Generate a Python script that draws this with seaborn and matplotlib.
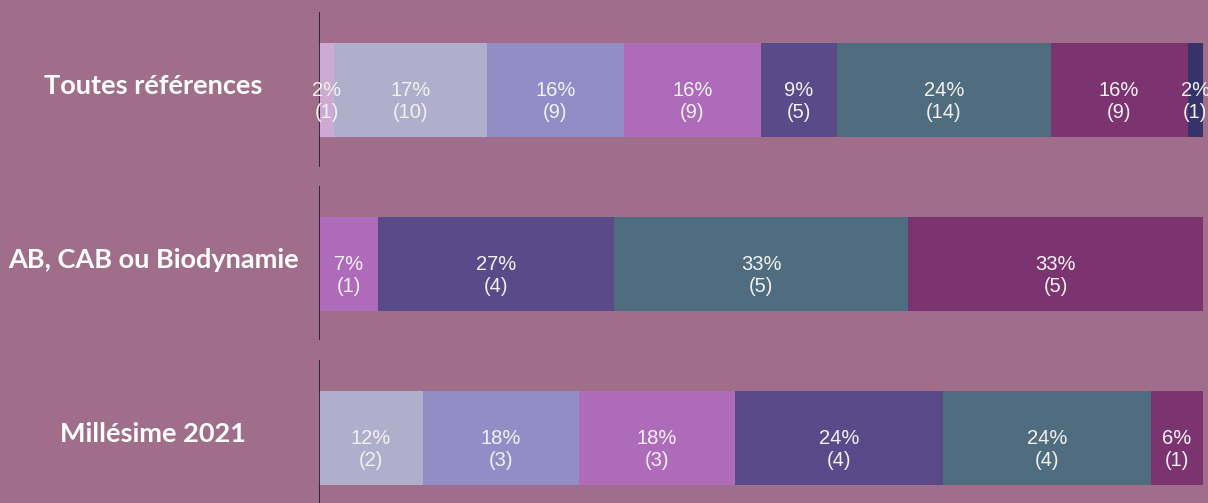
import numpy as np
import pandas as pd
import matplotlib
matplotlib.use("Agg")
import matplotlib.pyplot as plt
import matplotlib.transforms as mtransforms
import seaborn as sns

# ─── Data ────────────────────────────────────────────────────────────────────
categories = ["Toutes références", "AB, CAB ou Biodynamie", "Millésime 2021"]
segments = ["s1", "s2", "s3", "s4", "s5", "s6", "s7", "s8"]

counts = {
    "Toutes références":     [1, 10, 9, 9, 5, 14, 9, 1],
    "AB, CAB ou Biodynamie": [0, 0, 0, 1, 4, 5, 5, 0],
    "Millésime 2021":        [0, 2, 3, 3, 4, 4, 1, 0],
}
pct_labels = {
    "Toutes références":     [2, 17, 16, 16, 9, 24, 16, 2],
    "AB, CAB ou Biodynamie": [0, 0, 0, 7, 27, 33, 33, 0],
    "Millésime 2021":        [0, 12, 18, 18, 24, 24, 6, 0],
}

seg_colors = ["#CDAAD1", "#B0AECB", "#928DC7", "#AD6BBA",
              "#5A4A8A", "#4F6D7E", "#7B3470", "#35346A"]
BG = "#A06E8A"

# ─── Build table ─────────────────────────────────────────────────────────────
rows = []
for cat in categories:
    c = np.array(counts[cat], dtype=float)
    share = c / c.sum() * 100
    cum = np.cumsum(share)
    for i, seg in enumerate(segments):
        rows.append({"cat": cat, "seg": seg, "n": counts[cat][i],
                     "pct": pct_labels[cat][i], "share": share[i],
                     "end": cum[i], "mid": cum[i] - share[i] / 2})
df = pd.DataFrame(rows)

# ─── Plot ────────────────────────────────────────────────────────────────────
sns.set_theme(style="white")
fig = plt.figure(figsize=(12.08, 5.03), dpi=100, facecolor=BG)
ax = fig.add_axes([319 / 1208, 0, 884 / 1208, 1])
ax.set_facecolor(BG)

# layered cumulative bars, last segment first
for i in reversed(range(len(segments))):
    sub = df[df["seg"] == segments[i]]
    sns.barplot(data=sub, x="end", y="cat", order=categories, orient="h",
                color=seg_colors[i], saturation=1, width=0.54,
                linewidth=0, ax=ax)

# labels sit a little below the bar centre, as in the original
for _, r in df.iterrows():
    if r["n"] == 0:
        continue
    ax.text(r["mid"], categories.index(r["cat"]) + 0.065,
            f"{r['pct']}%\n({r['n']})", ha="center", va="center",
            fontsize=14.5, color="#F2F2F2", family="Liberation Sans",
            linespacing=1.2)

# segmented vertical axis line
for k in range(len(categories)):
    ax.vlines(0, k - 0.45, k + 0.44, color="#1A1A1A", linewidth=1.2)

# category labels
trans = mtransforms.blended_transform_factory(fig.transFigure, ax.transData)
for k, cat in enumerate(categories):
    ax.text(153 / 1208, k - 0.02, cat, transform=trans, ha="center",
            va="center", fontsize=19.5, fontweight="bold", color="white",
            family="Lato")

ax.set_xlim(0, 100)
ax.set_ylim(2.374, -0.517)
ax.set_xlabel("")
ax.set_ylabel("")
ax.set_xticks([])
ax.set_yticks([])
for s in ax.spines.values():
    s.set_visible(False)

fig.savefig("out.png", dpi=100, facecolor=BG)
